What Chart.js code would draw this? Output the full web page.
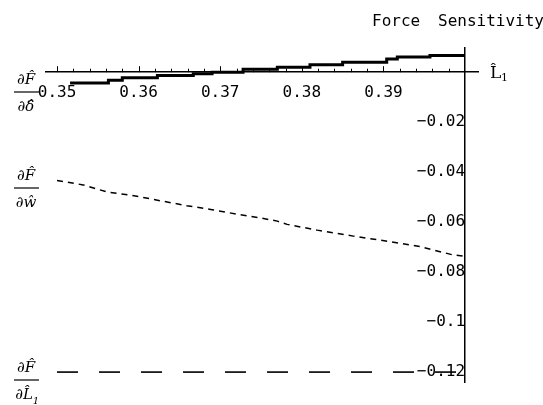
<!DOCTYPE html>
<html>
<head>
<meta charset="utf-8">
<title>Force Sensitivity</title>
<script src="https://cdn.jsdelivr.net/npm/chart.js@4.4.1/dist/chart.umd.min.js"></script>
<style>
  html, body { margin: 0; padding: 0; background: #fff; }
  #wrap { width: 543px; height: 405px; }
</style>
</head>
<body>
<div id="wrap"><canvas id="sensChart" width="543" height="405"></canvas></div>
<script>
// dF/d(delta): thick stepped curve
const deltaX = [0.3516, 0.3563, 0.3580, 0.3623, 0.3667, 0.3690, 0.3728, 0.3770, 0.3810, 0.3850, 0.3904, 0.3917, 0.3957, 0.4000];
const deltaY = [-0.0043, -0.0032, -0.0022, -0.0013, -0.0006, 0.0000, 0.0012, 0.0020, 0.0030, 0.0040, 0.0053, 0.0061, 0.0067, 0.0067];

// dF/dw: short dashes
const wX = [0.3500, 0.3532, 0.3561, 0.3596, 0.3626, 0.3659, 0.3690, 0.3722, 0.3749, 0.3770, 0.3782, 0.3819, 0.3863, 0.3908, 0.3945, 0.3985, 0.4000];
const wY = [-0.0433, -0.0451, -0.0479, -0.0495, -0.0514, -0.0534, -0.0550, -0.0569, -0.0583, -0.0596, -0.0609, -0.0632, -0.0656, -0.0678, -0.0698, -0.0731, -0.0737];

// dF/dL1: long dashes
const lX = [0.35, 0.40];
const lY = [-0.12, -0.12];

const xTickValues = [0.35, 0.36, 0.37, 0.38, 0.39];
const xTickLabels = ['0.35', '0.36', '0.37', '0.38', '0.39'];
const yTickValues = [-0.02, -0.04, -0.06, -0.08, -0.1, -0.12];
const yTickLabels = ['\u22120.02', '\u22120.04', '\u22120.06', '\u22120.08', '\u22120.1', '\u22120.12'];

const toPoints = (xs, ys) => xs.map((x, i) => ({ x: x, y: ys[i] }));

const monoFont = { family: 'DejaVu Sans Mono', size: 16 };

// small ticks on the x axis, fractions on the left, title and axis name
const decorPlugin = {
    id: 'decor',
    afterDraw(chart) {
        const ctx = chart.ctx;
        const xs = chart.scales.x;
        const ys = chart.scales.y;
        const axisY = ys.getPixelForValue(0);

        ctx.save();
        ctx.strokeStyle = '#000';
        ctx.lineWidth = 1;
        // tick marks point upward from the axis
        for (let k = 0; k < 25; k++) {
            const px = Math.round(xs.getPixelForValue(0.35 + k * 0.002)) + 0.5;
            const len = (k % 5 === 0) ? 6 : 3.5;
            ctx.beginPath();
            ctx.moveTo(px, axisY);
            ctx.lineTo(px, axisY - len);
            ctx.stroke();
        }

        ctx.fillStyle = '#000';
        ctx.textBaseline = 'alphabetic';
        ctx.textAlign = 'left';
        ctx.font = '16px "DejaVu Sans Mono"';
        ctx.fillText('Force', 372, 26);
        ctx.fillText('Sensitivity', 438, 26);

        // axis name L1
        const endX = xs.right;
        ctx.font = '17px "DejaVu Serif"';
        ctx.fillText('L\u0302', endX + 12, axisY + 6);
        ctx.font = '11px "DejaVu Serif"';
        ctx.fillText('1', endX + 23, axisY + 9);

        function frac(barY, den, sub) {
            ctx.lineWidth = 1.2;
            ctx.beginPath();
            ctx.moveTo(14, barY);
            ctx.lineTo(39, barY);
            ctx.stroke();
            ctx.textAlign = 'center';
            ctx.font = 'italic 15px "DejaVu Serif"';
            ctx.fillText('\u2202F\u0302', 26, barY - 8);
            ctx.fillText(den, sub ? 24 : 26, barY + 19);
            if (sub) {
                ctx.font = 'italic 10px "DejaVu Serif"';
                ctx.fillText(sub, 36, barY + 24);
            }
        }
        frac(92, '\u2202\u03B4\u0302');
        frac(188, '\u2202w\u0302');
        frac(380, '\u2202L\u0302', '1');
        ctx.restore();
    }
};

new Chart(document.getElementById('sensChart'), {
    type: 'line',
    data: {
        datasets: [
            {
                data: toPoints(deltaX, deltaY),
                borderColor: '#000',
                borderWidth: 3,
                stepped: 'before',
                pointRadius: 0
            },
            {
                data: toPoints(wX, wY),
                borderColor: '#000',
                borderWidth: 1.5,
                borderDash: [6, 5],
                pointRadius: 0,
                tension: 0
            },
            {
                data: toPoints(lX, lY),
                borderColor: '#000',
                borderWidth: 1.6,
                borderDash: [21, 21],
                pointRadius: 0
            }
        ]
    },
    options: {
        responsive: false,
        animation: false,
        devicePixelRatio: 1,
        layout: { padding: { left: 46, right: 65, top: 48, bottom: 17 } },
        plugins: {
            legend: { display: false },
            tooltip: { enabled: false }
        },
        scales: {
            x: {
                type: 'linear',
                position: { y: 0 },
                min: 0.34865,
                max: 0.40159,
                afterBuildTicks: (scale) => { scale.ticks = xTickValues.map(v => ({ value: v })); },
                grid: { display: false, drawTicks: false },
                border: { display: true, color: '#000', width: 1.5 },
                ticks: {
                    autoSkip: false,
                    maxRotation: 0,
                    padding: 11,
                    color: '#000',
                    font: monoFont,
                    callback: (v, i) => xTickLabels[i]
                }
            },
            y: {
                type: 'linear',
                position: { x: 0.40 },
                min: -0.12413,
                max: 0.00968,
                afterBuildTicks: (scale) => { scale.ticks = yTickValues.map(v => ({ value: v })); },
                grid: { display: false, drawTicks: false },
                border: { display: true, color: '#000', width: 1.5 },
                ticks: {
                    autoSkip: false,
                    padding: 13,
                    color: '#000',
                    font: monoFont,
                    callback: (v, i) => yTickLabels[i]
                }
            }
        }
    },
    plugins: [decorPlugin]
});
</script>
</body>
</html>
